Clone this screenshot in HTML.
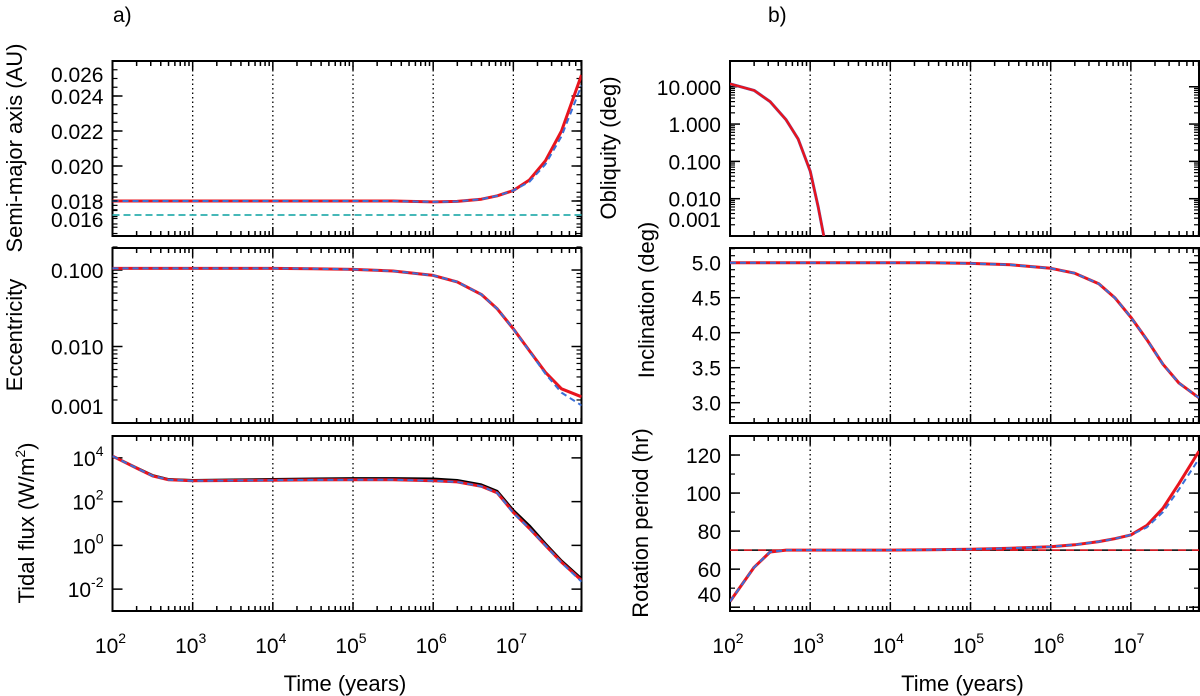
<!DOCTYPE html>
<html><head><meta charset="utf-8"><style>
html,body{margin:0;padding:0;background:#fff;}
svg{display:block;font-family:"Liberation Sans",Arial,sans-serif;}
</style></head><body>
<svg id="chart" width="1200" height="696" viewBox="0 0 1200 696" xmlns="http://www.w3.org/2000/svg">
<text x="113" y="22" font-size="21">a)</text>
<text x="768" y="22" font-size="21">b)</text>
</svg>
<script>
// shared time samples (log10 years)
const timeLog = [2, 2.3, 2.5, 2.7, 3, 3.5, 4, 4.5, 5, 5.5, 6, 6.3, 6.6, 6.8, 7, 7.2, 7.4, 7.6, 7.85];
const xTickExp = [2, 3, 4, 5, 6, 7];
// semi-major axis (AU)
const smaRed  = [0.0180,0.0180,0.0180,0.0180,0.0180,0.0180,0.0180,0.0180,0.0180,0.0180,0.01795,0.01798,0.0181,0.0183,0.0186,0.0192,0.0203,0.0220,0.0252];
const smaBlue = [0.0180,0.0180,0.0180,0.0180,0.0180,0.0180,0.0180,0.0180,0.0180,0.0180,0.01795,0.01798,0.0181,0.0183,0.0186,0.0191,0.0201,0.0217,0.0246];
const smaRoche = [0.0172];
const smaTicks = [0.016,0.018,0.020,0.022,0.024,0.026];
// eccentricity
const eccRed  = [0.105,0.105,0.105,0.105,0.105,0.105,0.105,0.104,0.102,0.097,0.085,0.070,0.048,0.031,0.017,0.0088,0.0046,0.0028,0.0022];
const eccBlue = [0.105,0.105,0.105,0.105,0.105,0.105,0.105,0.104,0.102,0.097,0.085,0.070,0.048,0.031,0.017,0.0087,0.0044,0.0025,0.0017];
const eccTicks = [0.001,0.01,0.1];
// tidal flux (W/m2)
const fluxBlack = [12000,3500,1600,1050,950,1000,1050,1100,1150,1150,1100,950,600,300,40,8,1.2,0.2,0.03];
const fluxRed   = [12000,3400,1500,1000,900,920,950,980,1000,1000,900,800,500,250,32,6,1.0,0.17,0.025];
const fluxBlue  = [12000,3400,1500,1000,900,920,950,980,1000,1000,900,800,500,250,30,6,1.0,0.16,0.022];
const fluxTicks = [-2,0,2,4];
// obliquity (deg)
const oblTime = [2, 2.3, 2.5, 2.7, 2.85, 3, 3.1, 3.17];
const oblRed  = [12, 8, 4, 1.3, 0.4, 0.055, 0.006, 0.001];
const oblTicks = [0.001,0.01,0.1,1,10];
const oblLabels = ["0.001","0.010","0.100","1.000","10.000"];
// inclination (deg)
const incRed  = [5.0,5.0,5.0,5.0,5.0,5.0,5.0,5.0,4.99,4.97,4.92,4.85,4.7,4.5,4.22,3.9,3.55,3.28,3.07];
const incBlue = [5.0,5.0,5.0,5.0,5.0,5.0,5.0,5.0,4.99,4.97,4.92,4.85,4.7,4.5,4.22,3.9,3.55,3.28,3.07];
const incTicks = [3.0,3.5,4.0,4.5,5.0];
// rotation period (hr)
const rotRed  = [43,61,69,70,70,70,70,70.2,70.5,71,71.8,72.8,74.5,76,78,83,92,105,122];
const rotBlue = [43,61,69,70,70,70,70,70.2,70.5,71,71.8,72.8,74.5,76,78,82,90,102,118];
const rotSync = [70];
const rotTicks = [40,60,80,100,120];

const NS="http://www.w3.org/2000/svg";
const svg=document.getElementById('chart');
function mk(tag,attrs,parent){const e=document.createElementNS(NS,tag);for(const k in attrs)e.setAttribute(k,attrs[k]);(parent||svg).appendChild(e);return e;}

function makePanel(x0,y0,w,h,ymin,ymax,ylog,xmaxExp){
  const xs=v=>x0+(v-2)/(xmaxExp-2)*w;
  const ys=v=>{const t=ylog?(Math.log10(v)-Math.log10(ymin))/(Math.log10(ymax)-Math.log10(ymin)):(v-ymin)/(ymax-ymin);return y0+h-t*h;};
  return {x0,y0,w,h,xs,ys,xmaxExp};
}
function drawFrame(p,name,showXLabels){
  const g=mk('g',{});
  
  
  for(const e of xTickExp){ if(e===2)continue;
    const l=mk('line',{x1:p.xs(e),x2:p.xs(e),y1:p.y0,y2:p.y0+p.h,stroke:'#000','stroke-width':1.3,'stroke-dasharray':'1.5 3'},g);
    
    
  }
  for(let d=2;d<8;d++){for(let m=1;m<10;m++){const v=d+Math.log10(m);if(v>p.xmaxExp)break;const X=p.xs(v);const L=m===1?9:5;
    mk('line',{x1:X,x2:X,y1:p.y0+p.h,y2:p.y0+p.h-L,stroke:'#000','stroke-width':1.5},g);
    mk('line',{x1:X,x2:X,y1:p.y0,y2:p.y0+L,stroke:'#000','stroke-width':1.5},g);}}
  if(showXLabels){for(const e of xTickExp){const X=p.xs(e);
    const t=mk('text',{x:X-2,y:p.y0+p.h+42,'font-size':21,'text-anchor':'middle'},g);
    
    
    t.textContent='10';const s=mk('tspan',{dy:-10,'font-size':14},t);s.textContent=String(e);}
    const tt=mk('text',{x:p.x0+p.w/2-2,y:p.y0+p.h+80,'font-size':22,'text-anchor':'middle'},g);
    
    
    tt.textContent='Time (years)';}
  return g;
}
function yTicks(p,g,vals,labels,ylog,minorStep,sup){
  vals.forEach((v,i)=>{const Y=p.ys(v);
    mk('line',{x1:p.x0,x2:p.x0+10,y1:Y,y2:Y,stroke:'#000','stroke-width':1.5},g);
    mk('line',{x1:p.x0+p.w,x2:p.x0+p.w-10,y1:Y,y2:Y,stroke:'#000','stroke-width':1.5},g);
    let ty=Y+8; ty=Math.max(p.y0+21,Math.min(p.y0+p.h-9,ty));
    const t=mk('text',{x:p.x0-9,y:ty,'font-size':21,'text-anchor':'end'},g);
    
    
    if(sup){t.textContent='10';const s=mk('tspan',{dy:-10,'font-size':14},t);s.textContent=labels[i];}
    else t.textContent=labels[i];
  });
  if(minorStep){ for(const Y of minorStep){mk('line',{x1:p.x0,x2:p.x0+5,y1:Y,y2:Y,stroke:'#000','stroke-width':1.2},g);mk('line',{x1:p.x0+p.w,x2:p.x0+p.w-5,y1:Y,y2:Y,stroke:'#000','stroke-width':1.2},g);} }
  mk('rect',{x:p.x0,y:p.y0,width:p.w,height:p.h,fill:'none',stroke:'#000','stroke-width':2},g);
}
function series(p,xv,yv,color,dash,width,name){
  const pts=xv.map((x,i)=>p.xs(x).toFixed(1)+','+p.ys(Math.max(yv[i],1e-12)).toFixed(1)).join(' ');
  const cp=mk('clipPath',{id:'c'+name});mk('rect',{x:p.x0,y:p.y0,width:p.w,height:p.h},cp);
  const l=mk('polyline',{points:pts,fill:'none',stroke:color,'stroke-width':width,'stroke-dasharray':dash||'none','clip-path':'url(#c'+name+')','stroke-linejoin':'round'});
  
  
}
function hline(p,v,color,dash,width,name){
  const l=mk('line',{x1:p.x0,x2:p.x0+p.w,y1:p.ys(v),y2:p.ys(v),stroke:color,'stroke-width':width,'stroke-dasharray':dash||'none'});
  
  
}
function ytitle(x,y,text,name){
  const t=mk('text',{x:x,y:y,'font-size':22,'text-anchor':'middle',transform:'rotate(-90 '+x+' '+y+')'});
  
  
  t.textContent=text;return t;
}
function logMinors(p,lo,hi){const r=[];for(let d=lo;d<hi;d++)for(let m=2;m<10;m++)r.push(p.ys(m*Math.pow(10,d)));return r;}
function linMinors(p,lo,hi,step){const r=[];for(let v=lo;v<=hi+1e-9;v+=step)r.push(p.ys(v));return r;}

const LX=112.5,RX=730,W=469,XM=7.85;
const PY=[61,248,436],PH=175;

let p=makePanel(LX,PY[0],W,PH,0.016,0.026,false,XM);let g=drawFrame(p,'semi-major-axis',false);
yTicks(p,g,smaTicks,smaTicks.map(v=>v.toFixed(3)),false,linMinors(p,0.0165,0.0255,0.0005));
hline(p,smaRoche[0],'#000','7 4',1.5,'roche-limit-line');hline(p,smaRoche[0],'#3cc','7 4',1.5,'roche-limit-line-cyan');
series(p,timeLog,smaRed,'#e8141e',null,3,'sma-red');series(p,timeLog,smaBlue,'#3a6fd8','6 4',2,'sma-blue');
ytitle(22,148,'Semi-major axis (AU)','y-axis-title-sma');

p=makePanel(LX,PY[1],W,PH,0.001,0.194,true,XM);g=drawFrame(p,'eccentricity',false);
yTicks(p,g,eccTicks,['0.001','0.010','0.100'],true,logMinors(p,-3,0));
series(p,timeLog,eccRed,'#e8141e',null,3,'ecc-red');series(p,timeLog,eccBlue,'#3a6fd8','6 4',2,'ecc-blue');
ytitle(22,335,'Eccentricity','y-axis-title-ecc');

p=makePanel(LX,PY[2],W,PH,1e-3,1e5,true,XM);g=drawFrame(p,'tidal-flux',true);
yTicks(p,g,fluxTicks.map(e=>Math.pow(10,e)),fluxTicks.map(String),true,null,true);
series(p,timeLog,fluxBlack,'#000',null,2.5,'flux-black');series(p,timeLog,fluxRed,'#e8141e',null,3,'flux-red');series(p,timeLog,fluxBlue,'#3a6fd8','6 4',2,'flux-blue');
const tf=ytitle(34,523,'','y-axis-title-flux');tf.textContent='Tidal flux (W/m';const s2=mk('tspan',{dy:-9,'font-size':14},tf);s2.textContent='2';const s3=mk('tspan',{dy:9},tf);s3.textContent=')';

p=makePanel(RX,PY[0],W,PH,0.001,49,true,XM);g=drawFrame(p,'obliquity',false);
yTicks(p,g,oblTicks,oblLabels,true,logMinors(p,-3,1));
series(p,oblTime,oblRed,'#3a6fd8',null,3,'obl-blue');series(p,oblTime,oblRed,'#e8141e',null,2.5,'obl-red');
ytitle(616,148,'Obliquity (deg)','y-axis-title-obliquity');

p=makePanel(RX,PY[1],W,PH,2.71,5.21,false,XM);g=drawFrame(p,'inclination',false);
yTicks(p,g,incTicks,incTicks.map(v=>v.toFixed(1)),false,linMinors(p,2.8,5.2,0.1));
series(p,timeLog,incRed,'#e8141e',null,3,'inc-red');series(p,timeLog,incBlue,'#3a6fd8','6 4',2,'inc-blue');
ytitle(654,300,'Inclination (deg)','y-axis-title-inclination');

p=makePanel(RX,PY[2],W,PH,38,130,false,XM);g=drawFrame(p,'rotation-period',true);
yTicks(p,g,rotTicks,rotTicks.map(String),false,linMinors(p,40,130,10));
hline(p,rotSync[0],'#000',null,1.5,'sync-period-line');hline(p,rotSync[0],'#e8141e','8 6',1.5,'sync-period-line-red');
series(p,timeLog,rotRed,'#e8141e',null,3,'rot-red');series(p,timeLog,rotBlue,'#3a6fd8','6 4',2,'rot-blue');
ytitle(648,523,'Rotation period (hr)','y-axis-title-rotation');
</script>
</body></html>
